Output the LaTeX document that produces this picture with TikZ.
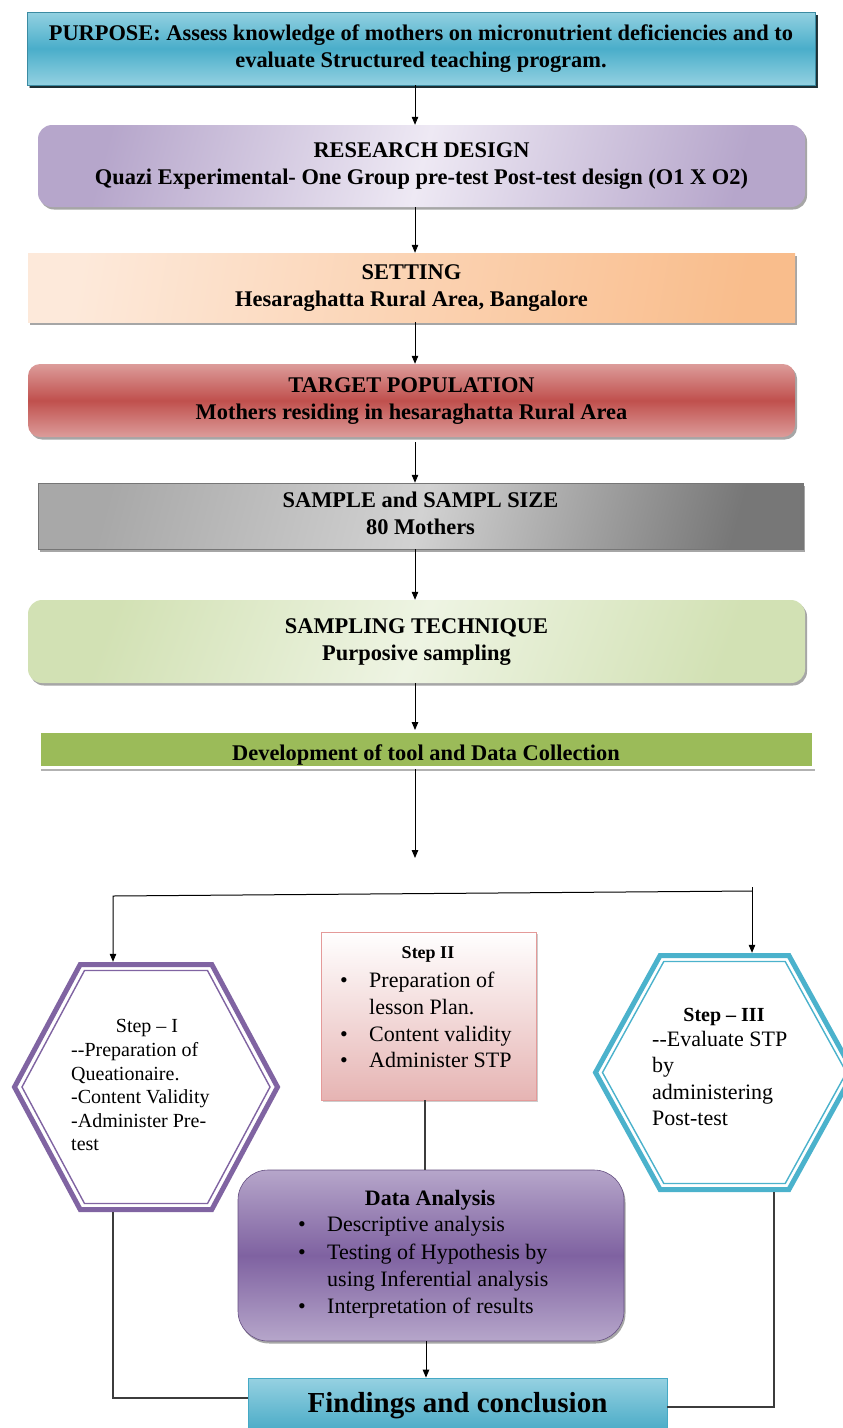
\documentclass[tikz,border=0pt]{standalone}
\usepackage{fontspec}
\setmainfont{Liberation Serif}
\usetikzlibrary{arrows.meta,shadows,calc}
\definecolor{pTealMid}{HTML}{4AAECA}
\definecolor{pTealLight}{HTML}{93D1E1}
\definecolor{lavDark}{HTML}{B6A6CB}
\definecolor{lavLight}{HTML}{EEE9F4}
\definecolor{orDark}{HTML}{F9BD8C}
\definecolor{orLight}{HTML}{FDE9DA}
\definecolor{redMid}{HTML}{C0504D}
\definecolor{redLight}{HTML}{DC9C9A}
\definecolor{greyDark}{HTML}{777777}
\definecolor{greySide}{HTML}{A8A8A8}
\definecolor{greyLight}{HTML}{D2D2D2}
\definecolor{grnLight}{HTML}{EEF4E3}
\definecolor{grnMid}{HTML}{D2E1B4}
\definecolor{grnDev}{HTML}{9BBB59}
\definecolor{pinkBot}{HTML}{E6B4B3}
\definecolor{pinkLine}{HTML}{E49A99}
\definecolor{purMid}{HTML}{7F62A1}
\definecolor{purLight}{HTML}{B6A6CA}
\definecolor{purLine}{HTML}{8064A2}
\definecolor{cyanLine}{HTML}{4BB2CC}
\definecolor{findTop}{HTML}{96D1E1}
\definecolor{findBot}{HTML}{45A9C5}
\definecolor{connGrey}{HTML}{3C3C3C}
\newcommand\zs{\strut}
\newcommand\fsz[2]{\fontsize{#1}{#2}\selectfont}
\newcommand\bul{\makebox[29pt][l]{\textbullet}}
\newcommand\bulsp{\hspace*{29pt}}
\tikzset{
  mainbox/.style={inner sep=0pt, align=center, font=\fsz{22.4}{27}\bfseries,
    drop shadow={shadow xshift=2pt, shadow yshift=-2.5pt, fill=black, opacity=0.35}},
  arr/.style={draw=black, line width=1pt, -{Triangle[length=8pt,width=6.5pt]}},
  plainline/.style={draw=connGrey, line width=1.2pt},
  txt/.style={inner sep=0pt, align=left},
}
\begin{document}
\begin{tikzpicture}[x=1pt,y=-1pt]
\clip (0,0) rectangle (843,1428);
\fill[white] (0,0) rectangle (843,1428);

% main boxes
\node[mainbox, minimum width=788pt, minimum height=73pt,
  top color=pTealLight, bottom color=pTealLight, middle color=pTealMid, draw=pTealMid!80!black, line width=0.6pt,
  drop shadow={shadow xshift=2.5pt, shadow yshift=-3pt, fill=black!80!pTealMid, opacity=0.9}]
  (purpose) at (421,48.5)
  {\zs PURPOSE: Assess knowledge of mothers on micronutrient deficiencies and to\\
   evaluate Structured teaching program.\zs};

\node[mainbox, minimum width=767pt, minimum height=82pt, rounded corners=14pt,
  left color=lavDark, right color=lavDark, middle color=lavLight, shading angle=75]
  (research) at (421.5,166)
  {\zs RESEARCH DESIGN\\ Quazi Experimental- One Group pre-test Post-test design (O1 X O2)\zs};

\node[mainbox, minimum width=767pt, minimum height=69pt,
  left color=orLight, right color=orDark, shading angle=80]
  (setting) at (411.5,287.5)
  {\zs SETTING\\ Hesaraghatta Rural Area, Bangalore\zs};

\node[mainbox, minimum width=767pt, minimum height=73pt, rounded corners=12pt,
  top color=redLight, bottom color=redLight, middle color=redMid]
  (target) at (411.5,400.5)
  {\zs TARGET POPULATION\\ Mothers residing in hesaraghatta Rural Area\zs};

\node[mainbox, minimum width=765pt, minimum height=66pt,
  left color=greySide, right color=greyDark, middle color=greyLight, shading angle=75,
  draw=greySide!70!black, line width=0.5pt]
  (sample) at (420.5,516)
  {\zs SAMPLE and SAMPL SIZE\\ 80 Mothers\zs};

\node[mainbox, minimum width=777pt, minimum height=83pt, rounded corners=14pt,
  left color=grnMid, right color=grnMid, middle color=grnLight, shading angle=70]
  (technique) at (416.5,641.5)
  {\zs SAMPLING TECHNIQUE\\ Purposive sampling\zs};

\node[inner sep=0pt, minimum width=774pt, minimum height=36pt, fill=grnDev,
  draw=white, line width=3pt,
  drop shadow={shadow xshift=2pt, shadow yshift=-3pt, fill=black, opacity=0.3}]
  (dev) at (426,749.5) {};
\begin{scope}
  \clip ($(dev.north west)$) rectangle ($(dev.south east)+(0,-4)$);
  \node[inner sep=0pt, anchor=base, font=\fsz{22.4}{27}\bfseries] (devtext) at (426,760)
    {Development of tool and Data Collection};
\end{scope}

% spine arrows
\coordinate (spine) at (415,0);
\draw[arr] (purpose.south -| spine) -- (research.north -| spine);
\draw[arr] (research.south -| spine) -- (setting.north -| spine);
\draw[arr] (setting.south -| spine) -- (target.north -| spine);
\draw[arr] ($(target.south -| spine)+(0,5)$) -- (sample.north -| spine);
\draw[arr] (sample.south -| spine) -- (technique.north -| spine);
\draw[arr] (technique.south -| spine) -- (dev.north -| spine);
\coordinate (devend) at (415,858);
\draw[arr] (dev.south -| spine) -- (devend);

% hexagon step I
\node[inner sep=0pt, minimum width=268pt, minimum height=250pt] (stepI) at (146,1087) {};
\draw[purLine, line width=5pt, line join=miter]
  (14.5,1087) -- (80.2,964.5) -- (211.8,964.5) -- (277.5,1087) -- (211.8,1209.5) -- (80.2,1209.5) -- cycle;
\draw[purLine, line width=1.4pt]
  (22,1087) -- (84.5,970.5) -- (207.5,970.5) -- (270,1087) -- (207.5,1203.5) -- (84.5,1203.5) -- cycle;
\node[inner sep=0pt, anchor=base, font=\fsz{20}{23.5}] (stepItitle) at (147,1032.7) {Step – I};
\node[txt, anchor=north west, font=\fsz{20}{23.5}] (stepItext) at (71,1040.2)
  {\zs -{}-Preparation of\\ Queationaire.\\ -Content Validity\\ -Administer Pre-\\ test\zs};

% hexagon step III
\node[inner sep=0pt, minimum width=263pt, minimum height=239pt] (stepIII) at (724.5,1072.5) {};
\draw[cyanLine, line width=5pt, line join=miter]
  (595.5,1072.5) -- (660.1,955.5) -- (788.9,955.5) -- (853.5,1072.5) -- (788.9,1189.5) -- (660.1,1189.5) -- cycle;
\draw[cyanLine, line width=1.4pt]
  (602.5,1072.5) -- (663.8,961.5) -- (785.2,961.5) -- (846.5,1072.5) -- (785.2,1183.5) -- (663.8,1183.5) -- cycle;
\node[inner sep=0pt, anchor=base, font=\fsz{20}{26}\bfseries] (stepIIItitle) at (724,1021.7) {Step – III};
\node[txt, anchor=north west, font=\fsz{22}{26.1}] (stepIIItext) at (652,1028.4)
  {\zs -{}-Evaluate STP\\ by\\ administering\\ Post-test\zs};

% step II box
\node[inner sep=0pt, minimum width=215pt, minimum height=168pt, top color=white, bottom color=pinkBot,
  draw=pinkLine, line width=0.8pt,
  drop shadow={shadow xshift=1.5pt, shadow yshift=-2pt, fill=black, opacity=0.2}]
  (stepII) at (428.5,1016) {};
\node[inner sep=0pt, anchor=base, font=\fsz{18}{22}\bfseries] (stepIItitle) at (428,958) {Step II};
\node[txt, anchor=north west, font=\fsz{22}{26.8}] (stepIItext) at (340,968.5)
  {\zs\bul Preparation of\\ \bulsp lesson Plan.\\ \bul Content validity\\ \bul Administer STP\zs};

% data analysis
\node[inner sep=0pt, minimum width=386pt, minimum height=171pt, rounded corners=30pt,
  top color=purLight, bottom color=purLight, middle color=purMid, draw=purLine!80!black, line width=0.6pt,
  drop shadow={shadow xshift=1.5pt, shadow yshift=-2.5pt, fill=black, opacity=0.35}]
  (data) at (431,1255.5) {};
\node[inner sep=0pt, anchor=base, font=\fsz{22}{27}\bfseries] (datatitle) at (430,1205) {Data Analysis};
\node[txt, anchor=north west, font=\fsz{22}{27.2}] (datatext) at (298,1212.7)
  {\zs\bul Descriptive analysis\\ \bul Testing of Hypothesis by\\ \bulsp using Inferential analysis\\ \bul Interpretation of results\zs};

% findings
\node[inner sep=0pt, minimum width=419pt, minimum height=56pt, top color=findTop, bottom color=findBot,
  draw=findBot, line width=0.8pt, font=\fsz{29}{34}\bfseries]
  (findings) at (457.5,1406) {Findings and conclusion};

% split connectors
\coordinate (splitR) at (752,887);
\coordinate (splitJ) at (752,891);
\coordinate (splitL) at (113,896);
\draw[arr] (splitR) -- (splitR |- stepIII.north);
\draw[arr] (splitJ) -- (splitL) -- (splitL |- stepI.north);

\coordinate (mid2) at (425,0);
\draw[plainline] (stepII.south -| mid2) -- (data.north -| mid2);
\coordinate (mid3) at (426,0);
\draw[arr] (data.south -| mid3) -- (findings.north -| mid3);

\coordinate (jl) at (113,1398);
\coordinate (jr) at (774,1407);
\draw[plainline] (stepI.south -| jl) -- (jl) -- (jl -| findings.west);
\draw[plainline] (stepIII.south -| jr) -- (jr) -- (jr -| findings.east);
\end{tikzpicture}
\end{document}
